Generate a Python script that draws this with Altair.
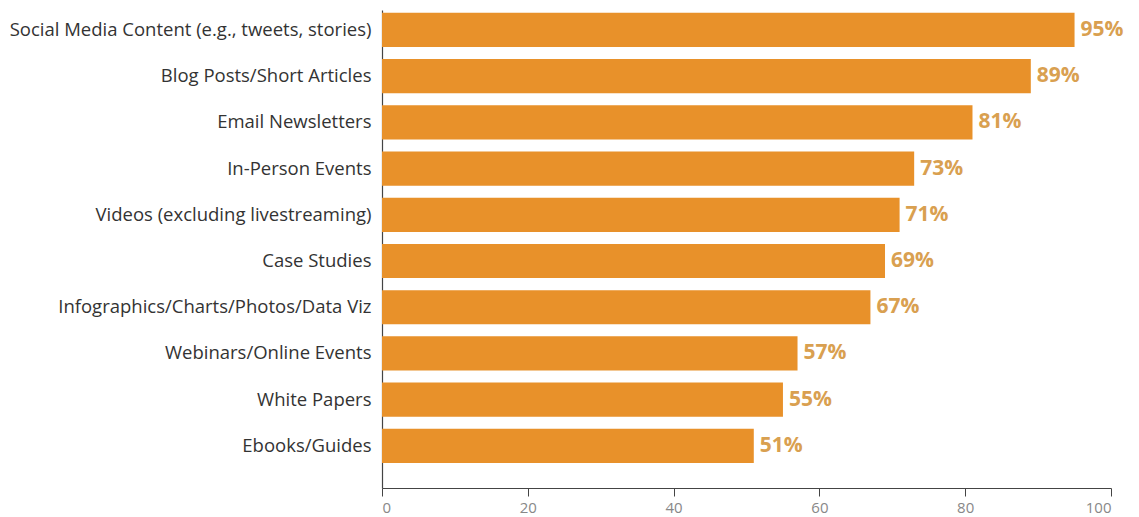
import altair as alt
import pandas as pd

categories = [
    "Social Media Content (e.g., tweets, stories)",
    "Blog Posts/Short Articles",
    "Email Newsletters",
    "In-Person Events",
    "Videos (excluding livestreaming)",
    "Case Studies",
    "Infographics/Charts/Photos/Data Viz",
    "Webinars/Online Events",
    "White Papers",
    "Ebooks/Guides",
]
values = [95, 89, 81, 73, 71, 69, 67, 57, 55, 51]
labels = [f"{v}%" for v in values]

df = pd.DataFrame({"cat": categories, "val": values, "lab": labels})

y = alt.Y("cat:N", sort=categories, title=None,
          scale=alt.Scale(paddingInner=0.26, paddingOuter=0.3, align=0.1),
          axis=alt.Axis(ticks=False, labelFontSize=18.5, labelColor="#333333",
                        labelFont="Open Sans", labelPadding=11, labelLimit=400,
                        domainColor="#444444", domainWidth=1.2))
x = alt.X("val:Q", title=None, scale=alt.Scale(domain=[0, 100]),
          axis=alt.Axis(values=[0, 20, 40, 60, 80, 100], grid=False,
                        labelFontSize=15, labelColor="#888888", labelFont="Open Sans",
                        tickColor="#444444", tickSize=8, domainColor="#444444",
                        labelPadding=4, domainWidth=1.2))

bars = alt.Chart(df).mark_bar(color="#E8912A").encode(x=x, y=y)
text = alt.Chart(df).mark_text(align="left", dx=6, fontSize=21, fontWeight="bold",
                               font="Open Sans", color="#D9A050").encode(
    x="val:Q", y=alt.Y("cat:N", sort=categories), text="lab:N")

chart = (bars + text).properties(
    width=729, height=478,
    background="white",
    autosize=alt.AutoSizeParams(type="none"),
    padding={"left": 382, "top": 10, "right": 28, "bottom": 29},
).configure_view(stroke=None)

chart.save("out.html", embed_options={"renderer": "svg", "actions": False})
